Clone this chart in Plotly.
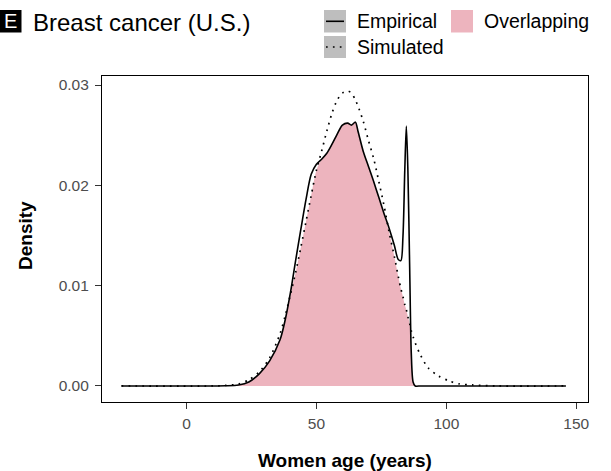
import plotly.graph_objects as go

# ---- data ----
ages = [-25, 10, 15, 20, 24, 28, 32, 36, 38, 40, 42, 44, 46, 48, 50, 52, 54, 56, 58,
        60, 62, 63.5, 65, 66, 68, 70, 72, 74, 76, 78, 80, 81.5, 82.5, 83.3, 84, 84.6,
        85.2, 85.9, 86.5, 87.2, 88, 90, 93, 97, 101, 105, 110, 120, 146]

empirical = [0, 0, 0.00002, 0.0001, 0.0004, 0.0012, 0.0025, 0.0046, 0.0066, 0.0093,
             0.0125, 0.0156, 0.0186, 0.0211, 0.0221, 0.0226, 0.0232, 0.0241, 0.0251,
             0.0260, 0.0262, 0.0260, 0.0263, 0.0254, 0.0234, 0.0219, 0.0204, 0.0188,
             0.0172, 0.0157, 0.0140, 0.0126, 0.0125, 0.0149, 0.0215, 0.0259,
             0.0215, 0.0116, 0.0033, 0.0004, 0, 0, 0, 0, 0, 0, 0, 0, 0]

simulated = [0, 0, 0.00005, 0.0002, 0.0006, 0.0014, 0.0028, 0.0052, 0.0070, 0.0091,
             0.0113, 0.0138, 0.0164, 0.0190, 0.0215, 0.0234, 0.0254, 0.0272, 0.0285,
             0.0292, 0.0294, 0.0292, 0.0285, 0.0279, 0.0264, 0.0245, 0.0227, 0.0204,
             0.0180, 0.0153, 0.0129, 0.0109, 0.0097, 0.0089, 0.0081, 0.0076,
             0.0069, 0.0062, 0.0055, 0.0049, 0.0043, 0.0031, 0.0018, 0.0010, 0.0005,
             0.0002, 0.0001, 0, 0]

overlap = [min(a, b) for a, b in zip(empirical, simulated)]

x_ticks = [0, 50, 100, 150]
y_ticks = [0.00, 0.01, 0.02, 0.03]
y_tick_labels = ["0.00", "0.01", "0.02", "0.03"]

PINK = "#EDB4BE"
GREY_KEY = "#BEBEBE"
FONT = "Liberation Sans, Arial, Helvetica, sans-serif"

fig = go.Figure()
fig.add_trace(go.Scatter(x=ages, y=overlap, mode="lines", fill="tozeroy",
                         fillcolor=PINK, line=dict(width=0, color=PINK, shape="spline", smoothing=0.8),
                         hoverinfo="skip", showlegend=False))
fig.add_trace(go.Scatter(x=ages, y=empirical, mode="lines",
                         line=dict(color="black", width=1.6, shape="spline", smoothing=0.8),
                         showlegend=False))
fig.add_trace(go.Scatter(x=ages, y=simulated, mode="lines",
                         line=dict(color="black", width=1.7, dash="1.7px,5.2px", shape="spline", smoothing=0.8),
                         showlegend=False))

axis_common = dict(showline=True, linecolor="black", linewidth=1.1, mirror=True,
                   showgrid=False, zeroline=False, ticks="outside", ticklen=6,
                   tickwidth=1, tickcolor="#333333",
                   tickfont=dict(family=FONT, size=15.5, color="#4D4D4D"))

fig.update_xaxes(range=[-32.5, 154.5], tickvals=x_ticks, ticklabelstandoff=1, **axis_common)
fig.update_yaxes(range=[-0.0016, 0.0309], tickvals=y_ticks, ticktext=y_tick_labels,
                 ticklabelstandoff=3, **axis_common)

W, H = 611, 471
ml, mr, mt, mb = 102, 23, 76, 69
pw, ph = W - ml - mr, H - mt - mb


def px(x):
    return (x - ml) / pw


def py(y):
    return (H - mb - y) / ph


shapes = []
annotations = []

# axis titles
annotations.append(dict(x=px(345), y=py(460), xref="paper", yref="paper", text="<b>Women age (years)</b>",
                        showarrow=False, font=dict(family=FONT, size=19, color="black"),
                        xanchor="center", yanchor="middle"))
annotations.append(dict(x=px(25), y=py(236), xref="paper", yref="paper", text="<b>Density</b>",
                        showarrow=False, textangle=-90, font=dict(family=FONT, size=19, color="black"),
                        xanchor="center", yanchor="middle"))

# "E" tag
shapes.append(dict(type="rect", xref="paper", yref="paper", x0=px(0), x1=px(21.5), y0=py(32.5), y1=py(10),
                   fillcolor="black", line=dict(width=0)))
annotations.append(dict(x=px(10.8), y=py(21.5), xref="paper", yref="paper", text="E", showarrow=False,
                        font=dict(family=FONT, size=20, color="white"), xanchor="center", yanchor="middle"))
annotations.append(dict(x=px(31), y=py(22), xref="paper", yref="paper", text="Breast cancer (U.S.)",
                        showarrow=False, font=dict(family=FONT, size=24, color="black"),
                        xanchor="left", yanchor="middle"))

# legend keys
shapes.append(dict(type="rect", xref="paper", yref="paper", x0=px(324), x1=px(346), y0=py(32.5), y1=py(10),
                   fillcolor=GREY_KEY, line=dict(width=0)))
shapes.append(dict(type="line", xref="paper", yref="paper", x0=px(326), x1=px(344), y0=py(21.3), y1=py(21.3),
                   line=dict(color="black", width=1.6)))
shapes.append(dict(type="rect", xref="paper", yref="paper", x0=px(324), x1=px(346), y0=py(58), y1=py(36),
                   fillcolor=GREY_KEY, line=dict(width=0)))
shapes.append(dict(type="line", xref="paper", yref="paper", x0=px(326), x1=px(344), y0=py(47), y1=py(47),
                   line=dict(color="black", width=1.7, dash="1.7px,5.2px")))
shapes.append(dict(type="rect", xref="paper", yref="paper", x0=px(451), x1=px(473), y0=py(32.5), y1=py(10),
                   fillcolor=PINK, line=dict(width=0)))

legend_font = dict(family=FONT, size=19.5, color="black")
annotations.append(dict(x=px(355), y=py(21.5), xref="paper", yref="paper", text="Empirical", showarrow=False,
                        font=legend_font, xanchor="left", yanchor="middle"))
annotations.append(dict(x=px(355), y=py(47), xref="paper", yref="paper", text="Simulated", showarrow=False,
                        font=legend_font, xanchor="left", yanchor="middle"))
annotations.append(dict(x=px(482), y=py(21.5), xref="paper", yref="paper", text="Overlapping", showarrow=False,
                        font=legend_font, xanchor="left", yanchor="middle"))

fig.update_layout(width=W, height=H, margin=dict(l=ml, r=mr, t=mt, b=mb),
                  plot_bgcolor="white", paper_bgcolor="white",
                  shapes=shapes, annotations=annotations, showlegend=False,
                  font=dict(family=FONT))

fig.write_html("out.html")
